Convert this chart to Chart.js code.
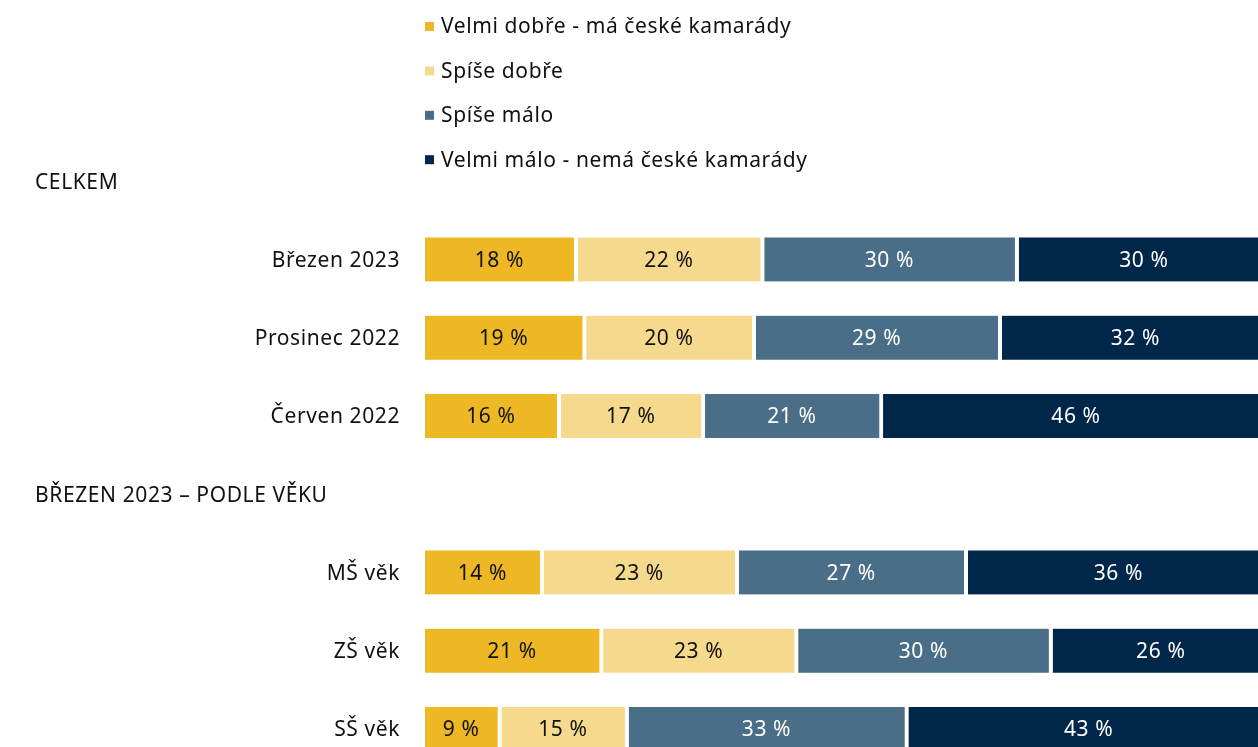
<!DOCTYPE html>
<html lang="cs">
<head>
<meta charset="utf-8">
<title>Kamarádi</title>
<script src="https://cdn.jsdelivr.net/npm/chart.js@4.4.0/dist/chart.umd.min.js"></script>
<style>
  html, body { margin: 0; padding: 0; background: #fff; overflow: hidden; }
  #wrap { position: absolute; left: 0; top: 0; width: 1273px; height: 768px; }
</style>
</head>
<body>
<div id="wrap"><canvas id="chart" width="1273" height="768"></canvas></div>
<script>
// rows; empty label = section heading row
const categories = ['', 'Březen 2023', 'Prosinec 2022', 'Červen 2022', '', 'MŠ věk', 'ZŠ věk', 'SŠ věk'];
const sections = ['CELKEM', 'BŘEZEN 2023 – PODLE VĚKU'];
const sectionRows = [0, 4];

const seriesNames = ['Velmi dobře - má české kamarády', 'Spíše dobře', 'Spíše málo', 'Velmi málo - nemá české kamarády'];
const velmiDobre = [null, 18, 19, 16, null, 14, 21, 9];
const spiseDobre = [null, 22, 20, 17, null, 23, 23, 15];
const spiseMalo  = [null, 30, 29, 21, null, 27, 30, 33];
const velmiMalo  = [null, 30, 32, 46, null, 36, 26, 43];

const colors = ['#EDB824', '#F5D98C', '#4A6E87', '#00264A'];
const labelColors = ['#111111', '#111111', '#ffffff', '#ffffff'];

const FONT = '"Noto Sans", sans-serif';

// draws legend, row labels, section headings and the % labels
const extras = {
  id: 'extras',
  afterDatasetsDraw(chart) {
    const ctx = chart.ctx;
    const dy = 1.5; // small baseline nudge
    ctx.save();
    ctx.font = '21px ' + FONT;
    ctx.letterSpacing = '0.6px';
    ctx.textBaseline = 'middle';

    // legend, one item per line
    chart.data.datasets.forEach((ds, i) => {
      const y = 26 + i * 44.4;
      ctx.fillStyle = ds.backgroundColor;
      ctx.fillRect(425, y - 4, 9, 9);
      ctx.fillStyle = '#111111';
      ctx.textAlign = 'left';
      ctx.fillText(ds.label, 441, y + dy);
    });

    const yScale = chart.scales.y;
    // row labels
    ctx.textAlign = 'right';
    categories.forEach((c, i) => {
      if (!c) return;
      ctx.fillText(c, 400, yScale.getPixelForValue(i) + dy);
    });

    // section headings
    ctx.textAlign = 'left';
    sections.forEach((s, i) => {
      ctx.fillText(s, 35, yScale.getPixelForValue(sectionRows[i]) + dy);
    });

    // value labels
    ctx.textAlign = 'center';
    chart.data.datasets.forEach((ds, i) => {
      chart.getDatasetMeta(i).data.forEach((bar, j) => {
        const v = ds.data[j];
        if (v == null) return;
        ctx.fillStyle = labelColors[i];
        const cx = (bar.base + bar.x - 4) / 2;
        ctx.fillText(v + ' %', cx, bar.y + dy);
      });
    });
    ctx.restore();
  }
};

const seriesData = [velmiDobre, spiseDobre, spiseMalo, velmiMalo];

new Chart(document.getElementById('chart'), {
  type: 'bar',
  data: {
    labels: categories,
    datasets: seriesData.map((d, i) => ({
      label: seriesNames[i],
      data: d,
      backgroundColor: colors[i],
      borderColor: '#ffffff',
      borderWidth: { top: 0, bottom: 0, left: 0, right: 4 },
      borderSkipped: false,
      barThickness: 44
    }))
  },
  options: {
    indexAxis: 'y',
    responsive: false,
    animation: false,
    devicePixelRatio: 1,
    layout: { padding: { top: 142, bottom: 0, left: 0, right: 0 } },
    plugins: {
      legend: { display: false },
      tooltip: { enabled: false }
    },
    scales: {
      x: { stacked: true, min: 0, max: 100, display: false },
      y: {
        stacked: true,
        grid: { display: false, drawTicks: false },
        border: { display: false },
        afterFit(scale) { scale.width = 425; },
        ticks: { display: false }
      }
    }
  },
  plugins: [extras]
});
</script>
</body>
</html>
